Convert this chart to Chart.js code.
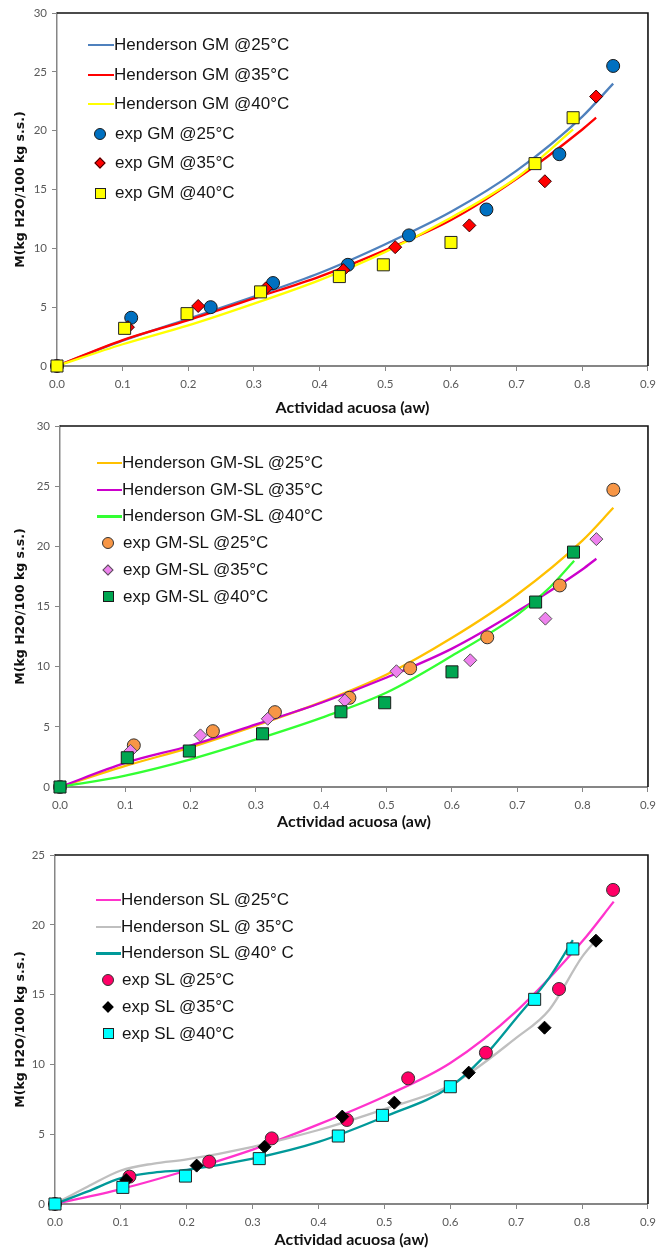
<!DOCTYPE html>
<html lang="es">
<head>
<meta charset="utf-8">
<title>Isotermas de sorción - Henderson</title>
<script src="https://cdn.jsdelivr.net/npm/chart.js@4/dist/chart.umd.min.js"></script>
<style>
    html, body { margin: 0; padding: 0; background: #fff; }
    body { width: 662px; height: 1250px; position: relative; overflow: hidden; }
    .panel { position: absolute; left: 0; width: 662px; }
    .panel canvas { position: absolute; left: 0; top: 0; }
    .leyenda { position: absolute; left: 0; top: 0; font-family: "Liberation Sans", Arial, sans-serif; font-size: 17px; color: #151515; }
    .item { position: absolute; white-space: nowrap; height: 20px; line-height: 20px; }
    .sim { position: absolute; box-sizing: border-box; }
</style>
</head>
<body>
<div class="panel" id="p1" style="top:0;height:418px"><canvas id="c1" width="662" height="418"></canvas><div class="leyenda" id="l1"></div></div>
<div class="panel" id="p2" style="top:412px;height:424px"><canvas id="c2" width="662" height="424"></canvas><div class="leyenda" id="l2"></div></div>
<div class="panel" id="p3" style="top:836px;height:414px"><canvas id="c3" width="662" height="414"></canvas><div class="leyenda" id="l3"></div></div>

<script>
// --- DATOS: actividad de agua de los puntos experimentales ---
const awExp25 = [0, 0.113, 0.234, 0.329, 0.443, 0.536, 0.654, 0.765, 0.847];
const awExp35 = [0, 0.108, 0.215, 0.318, 0.436, 0.515, 0.628, 0.743, 0.821];
const awExp40 = [0, 0.103, 0.198, 0.310, 0.430, 0.497, 0.600, 0.728, 0.786];

// --- GM ---
const expGm25 = [0, 4.1, 5.0, 7.05, 8.6, 11.1, 13.3, 18.0, 25.5];
const expGm35 = [0, 3.3, 5.1, 6.6, 8.15, 10.1, 11.95, 15.7, 22.9];
const expGm40 = [0, 3.2, 4.45, 6.3, 7.6, 8.6, 10.5, 17.2, 21.1];
const hGm25X = [0, 0.1, 0.2, 0.3, 0.4, 0.5, 0.6, 0.7, 0.8, 0.847];
const hGm25Y = [0, 2.15, 4.0, 5.9, 7.9, 10.35, 13.1, 16.6, 21.2, 24.0];
const hGm35X = [0, 0.1, 0.2, 0.3, 0.4, 0.5, 0.6, 0.7, 0.8, 0.821];
const hGm35Y = [0, 2.2, 3.9, 5.75, 7.6, 9.85, 12.4, 15.9, 20.1, 21.1];
const hGm40X = [0, 0.1, 0.2, 0.3, 0.4, 0.5, 0.6, 0.7, 0.786];
const hGm40Y = [0, 1.85, 3.45, 5.3, 7.3, 9.7, 12.6, 16.0, 20.1];

// --- GM-SL ---
const expGmsl25 = [0, 3.46, 4.64, 6.22, 7.41, 9.87, 12.44, 16.75, 24.7];
const expGmsl35 = [0, 3.0, 4.29, 5.67, 7.19, 9.62, 10.53, 13.99, 20.6];
const expGmsl40 = [0, 2.43, 2.99, 4.42, 6.25, 7.0, 9.57, 15.37, 19.52];
const hGmsl25X = [0, 0.1, 0.2, 0.3, 0.4, 0.5, 0.6, 0.7, 0.8, 0.847];
const hGmsl25Y = [0, 1.75, 3.3, 5.1, 7.05, 9.35, 12.4, 16.0, 20.5, 23.2];
const hGmsl35X = [0, 0.1, 0.2, 0.3, 0.4, 0.5, 0.6, 0.7, 0.8, 0.821];
const hGmsl35Y = [0, 2.0, 3.45, 5.2, 7.0, 9.1, 11.5, 14.6, 18.1, 18.97];
const hGmsl40X = [0, 0.1, 0.2, 0.3, 0.4, 0.5, 0.6, 0.7, 0.75, 0.787];
const hGmsl40Y = [0, 0.95, 2.3, 3.95, 5.75, 7.85, 10.9, 14.3, 16.6, 18.8];

// --- SL ---
const expSl25 = [0, 1.96, 3.03, 4.7, 6.02, 9.0, 10.84, 15.4, 22.5];
const expSl35 = [0, 1.72, 2.75, 4.1, 6.26, 7.26, 9.41, 12.63, 18.86];
const expSl40 = [0, 1.19, 2.0, 3.25, 4.87, 6.35, 8.4, 14.66, 18.27];
const hSl25X = [0, 0.1, 0.2, 0.3, 0.4, 0.5, 0.6, 0.7, 0.8, 0.848];
const hSl25Y = [0, 1.07, 2.4, 3.9, 5.7, 7.7, 10.1, 13.8, 18.8, 21.66];
const hSl35X = [0, 0.05, 0.1, 0.15, 0.2, 0.3, 0.4, 0.5, 0.6, 0.7, 0.75, 0.8, 0.821];
const hSl35Y = [0, 1.25, 2.4, 2.9, 3.2, 4.1, 5.3, 6.8, 8.5, 11.9, 13.9, 17.7, 18.9];
const hSl40X = [0, 0.05, 0.1, 0.15, 0.2, 0.3, 0.4, 0.5, 0.6, 0.65, 0.7, 0.75, 0.786];
const hSl40Y = [0, 0.9, 1.85, 2.25, 2.45, 3.25, 4.45, 6.25, 8.4, 10.5, 13.3, 16.2, 18.9];

// --- ejes ---
const xTicks = [0, 0.1, 0.2, 0.3, 0.4, 0.5, 0.6, 0.7, 0.8, 0.9];
const xTitulo = 'Actividad acuosa (aw)';
const yTitulo = 'M(kg H2O/100 kg s.s.)';

const pares = (xs, ys) => xs.map((x, i) => ({ x, y: ys[i] }));

document.addEventListener('DOMContentLoaded', () => {

    const GRIS_EJE = '#868686';

    // marco negro superior y derecho
    const marcoPlugin = {
        id: 'marco',
        beforeDatasetsDraw(chart) {
            const { ctx, chartArea: a } = chart;
            ctx.save();
            ctx.strokeStyle = '#111';
            ctx.lineWidth = 1.6;
            ctx.beginPath();
            ctx.moveTo(a.left, a.top);
            ctx.lineTo(a.right, a.top);
            ctx.lineTo(a.right, a.bottom);
            ctx.stroke();
            ctx.restore();
        }
    };

    function curva(label, xs, ys, color, order) {
        return {
            label, data: pares(xs, ys), showLine: true, pointRadius: 0, pointHoverRadius: 0,
            borderColor: color, borderWidth: 2.3, cubicInterpolationMode: 'monotone',
            order, clip: false
        };
    }

    function puntos(label, ys, xs, estilo, fondo, borde, radio, order) {
        return {
            label, data: pares(xs, ys), showLine: false, pointStyle: estilo,
            pointRadius: radio, pointHoverRadius: radio,
            backgroundColor: fondo, borderColor: borde, pointBorderWidth: 1,
            order, clip: false
        };
    }

    function crearGrafico(id, cfg) {
        const ctx = document.getElementById(id).getContext('2d');
        return new Chart(ctx, {
            type: 'scatter',
            data: { datasets: cfg.datasets },
            options: {
                responsive: false,
                animation: false,
                devicePixelRatio: 1,
                layout: { padding: { left: 0, right: cfg.right, top: cfg.top, bottom: cfg.bottom } },
                plugins: { legend: { display: false }, tooltip: { enabled: false } },
                scales: {
                    x: {
                        type: 'linear', min: 0, max: 0.9,
                        afterBuildTicks: s => { s.ticks = xTicks.map(v => ({ value: v })); },
                        afterFit: s => { s.height = cfg.xAlto; },
                        ticks: { callback: v => v.toFixed(1), color: '#595959', font: { family: 'Lato', size: 11.5 }, padding: 6, maxRotation: 0, autoSkip: false },
                        grid: { drawOnChartArea: false, drawTicks: true, tickLength: 5, color: GRIS_EJE, lineWidth: 1 },
                        border: { color: GRIS_EJE, width: 2 },
                        title: { display: true, text: xTitulo, color: '#111', font: { family: 'Lato', size: 16, weight: 'bold' }, padding: { top: 0, bottom: 0 } }
                    },
                    y: {
                        type: 'linear', min: 0, max: cfg.yMax,
                        afterFit: s => { s.width = cfg.left; },
                        ticks: { stepSize: 5, color: '#595959', font: { family: 'Lato', size: 11.5 }, padding: 5 },
                        grid: { drawOnChartArea: false, drawTicks: true, tickLength: 5, color: GRIS_EJE, lineWidth: 1 },
                        border: { color: GRIS_EJE, width: 1.5 },
                        title: { display: true, text: yTitulo, color: '#111', font: { family: 'DejaVu Sans', size: 12.5, weight: 'bold' }, padding: { top: 13, bottom: 0 } }
                    }
                }
            },
            plugins: [marcoPlugin]
        });
    }

    // leyenda en HTML dentro del área de trazado
    function crearLeyenda(id, chart, pos) {
        const cont = document.getElementById(id);
        // orden de la leyenda: curvas 25/35/40, luego puntos 25/35/40
        const orden = [5, 4, 3, 2, 1, 0];
        orden.forEach((idx, fila) => {
            const ds = chart.data.datasets[idx];
            const cy = pos.y0 + fila * pos.dy;
            const sim = document.createElement('div');
            sim.className = 'sim';
            if (ds.showLine) {
                Object.assign(sim.style, { left: pos.lx0 + 'px', width: (pos.lx1 - pos.lx0) + 'px', top: (cy - 1.1) + 'px', height: '2.3px', background: ds.borderColor });
            } else {
                const tam = ds.pointStyle === 'circle' ? 12 : (ds.pointStyle === 'rect' ? 11 : 8);
                Object.assign(sim.style, {
                    left: (pos.mx - tam / 2) + 'px', top: (cy - tam / 2) + 'px', width: tam + 'px', height: tam + 'px',
                    background: ds.backgroundColor, border: '1px solid ' + ds.borderColor,
                    borderRadius: ds.pointStyle === 'circle' ? '50%' : '0',
                    transform: ds.pointStyle === 'rectRot' ? 'rotate(45deg)' : 'none'
                });
            }
            cont.appendChild(sim);
            const txt = document.createElement('div');
            txt.className = 'item';
            txt.textContent = ds.label;
            Object.assign(txt.style, { left: (ds.showLine ? pos.tx : pos.tx2) + 'px', top: (cy - 10) + 'px' });
            cont.appendChild(txt);
        });
    }

    // --- Gráfico 1: GM ---
    const g1 = crearGrafico('c1', {
        left: 57, right: 12, top: 13, bottom: 1, xAlto: 51, yMax: 30,
        datasets: [
            puntos('exp GM @40°C', expGm40, awExp40, 'rect', '#FFFF00', '#222', 8.5, 0),
            puntos('exp GM @35°C', expGm35, awExp35, 'rectRot', '#FF0000', '#3a0000', 6.5, 1),
            puntos('exp GM @25°C', expGm25, awExp25, 'circle', '#0070C0', '#1a1a1a', 6.5, 2),
            curva('Henderson GM @40°C', hGm40X, hGm40Y, '#FFFF00', 3),
            curva('Henderson GM @35°C', hGm35X, hGm35Y, '#FF0000', 4),
            curva('Henderson GM @25°C', hGm25X, hGm25Y, '#4F81BD', 5)
        ]
    });
    crearLeyenda('l1', g1, { y0: 45, dy: 29.6, lx0: 88, lx1: 114, tx: 114, mx: 100, tx2: 115 });

    // --- Gráfico 2: GM-SL ---
    const g2 = crearGrafico('c2', {
        left: 60, right: 9, top: 14, bottom: 5, xAlto: 44, yMax: 30,
        datasets: [
            puntos('exp GM-SL @40°C', expGmsl40, awExp40, 'rect', '#00A651', '#1a1a1a', 8.5, 0),
            puntos('exp GM-SL @35°C', expGmsl35, awExp35, 'rectRot', '#EE82EE', '#555', 6.5, 1),
            puntos('exp GM-SL @25°C', expGmsl25, awExp25, 'circle', '#F79646', '#333', 6.5, 2),
            curva('Henderson GM-SL @40°C', hGmsl40X, hGmsl40Y, '#33FF33', 3),
            curva('Henderson GM-SL @35°C', hGmsl35X, hGmsl35Y, '#CC00CC', 4),
            curva('Henderson GM-SL @25°C', hGmsl25X, hGmsl25Y, '#FFC000', 5)
        ]
    });
    crearLeyenda('l2', g2, { y0: 51, dy: 26.7, lx0: 97, lx1: 122, tx: 122, mx: 108, tx2: 123 });

    // --- Gráfico 3: SL ---
    const g3 = crearGrafico('c3', {
        left: 55, right: 10, top: 19, bottom: 1, xAlto: 45, yMax: 25,
        datasets: [
            puntos('exp SL @40°C', expSl40, awExp40, 'rect', '#00FFFF', '#222', 8.5, 0),
            puntos('exp SL @35°C', expSl35, awExp35, 'rectRot', '#000000', '#000', 6.5, 1),
            puntos('exp SL @25°C', expSl25, awExp25, 'circle', '#FF0066', '#333', 6.5, 2),
            curva('Henderson SL @40° C', hSl40X, hSl40Y, '#009999', 3),
            curva('Henderson SL @ 35°C', hSl35X, hSl35Y, '#BFBFBF', 4),
            curva('Henderson SL @25°C', hSl25X, hSl25Y, '#FF33CC', 5)
        ]
    });
    crearLeyenda('l3', g3, { y0: 64, dy: 26.7, lx0: 96, lx1: 121, tx: 121, mx: 108, tx2: 122 });
});
</script>
</body>
</html>
